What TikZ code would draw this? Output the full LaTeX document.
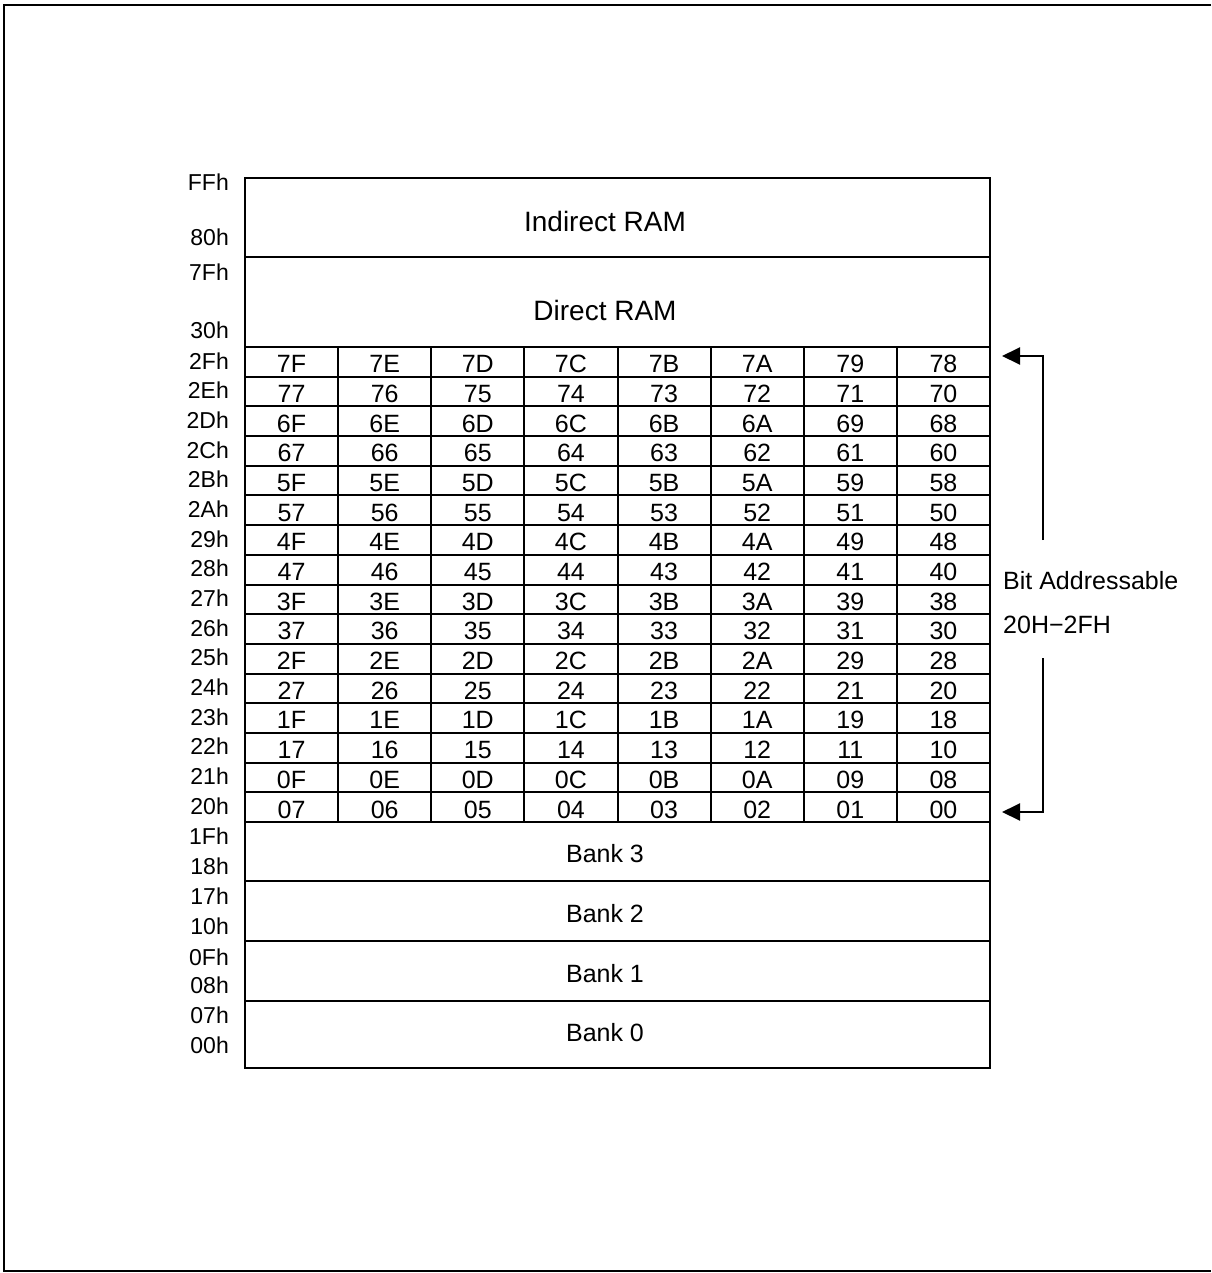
\documentclass[tikz,border=0pt]{standalone}
\usepackage{fontspec}
\setmainfont{Liberation Sans}
\usetikzlibrary{arrows.meta}

\tikzset{
  mem/.style={line width=2pt},
  lbl/.style={inner sep=0pt, anchor=base, font=\fontsize{25}{30}\selectfont},
  big/.style={lbl, font=\fontsize{28}{33}\selectfont},
  addr/.style={lbl, anchor=base east, font=\fontsize{23}{28}\selectfont},
  side/.style={lbl, anchor=base west},
  brk/.style={line width=2pt, -{Triangle[length=18pt,width=17pt]}},
}

\begin{document}
\begin{tikzpicture}[x=1pt, y=-1pt]
\useasboundingbox (0,0) rectangle (1211,1273);
% outer frame (open on the right)
\draw[line width=2pt] (1211,5) -- (4,5) -- (4,1271) -- (1211,1271);

% memory block
\draw[mem] (245,178) rectangle (990,1068);
\foreach \y in {257,347,822,881,941,1001}
  \draw[mem] (245,\y) -- (990,\y);
% bit addressable grid
\foreach \r in {1,...,15}
  \draw[mem] (245,{347+\r*29.6875}) -- (990,{347+\r*29.6875});
\foreach \c in {1,...,7}
  \draw[mem] ({245+\c*93.125},347) -- ({245+\c*93.125},822);

\node[big] (indirect) at (605,232) {Indirect RAM};
\node[big] (direct) at (605,320) {Direct RAM};
\node[addr] (aFF) at (229,191) {FFh};
\node[addr] (a80) at (229,245) {80h};
\node[addr] (a7F) at (229,280) {7Fh};
\node[addr] (a30) at (229,338) {30h};

\foreach \r in {0,...,15}{
  \pgfmathtruncatemacro\byte{47-\r}
  \pgfmathdectoBase\bx{\byte}{16}
  \node[addr] (row\r) at (229,{347+\r*29.6875+22}) {\bx h};
  \foreach \c in {0,...,7}{
    \pgfmathtruncatemacro\bit{(15-\r)*8+7-\c}
    \pgfmathdectoBase\hx{\bit}{16}
    \node[lbl] (b\r-\c) at ({245+(\c+0.5)*93.125},{347+(\r+1)*29.6875-4})
      {\ifnum\bit<16 0\fi\hx};
  }
}

% register banks
\node[lbl] (bank3) at (605,862) {Bank 3};
\node[lbl] (bank2) at (605,922) {Bank 2};
\node[lbl] (bank1) at (605,982) {Bank 1};
\node[lbl] (bank0) at (605,1041) {Bank 0};
\node[addr] (a1F) at (229,844) {1Fh};
\node[addr] (a18) at (229,874) {18h};
\node[addr] (a17) at (229,904) {17h};
\node[addr] (a10) at (229,934) {10h};
\node[addr] (a0F) at (229,965) {0Fh};
\node[addr] (a08) at (229,993) {08h};
\node[addr] (a07) at (229,1023) {07h};
\node[addr] (a00) at (229,1053) {00h};

% bit addressable bracket
\node[side] (bitaddr) at (1003,589) {Bit Addressable};
\node[side] (range) at (1003,633) {20H−2FH};
\coordinate (upEnd) at (1043,540);
\coordinate (loEnd) at (1043,658);
\coordinate (tipTop) at (1002,356);
\coordinate (tipBot) at (1002,812);
\draw[brk] (upEnd) -- (upEnd |- tipTop) -- (tipTop);
\draw[brk] (loEnd) -- (loEnd |- tipBot) -- (tipBot);
\end{tikzpicture}
\end{document}
